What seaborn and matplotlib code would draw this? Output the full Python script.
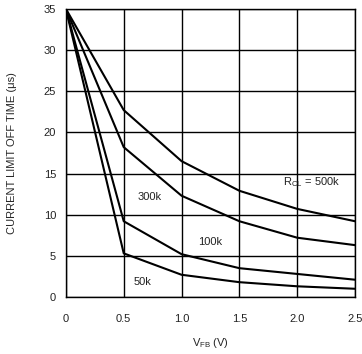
import numpy as np
import pandas as pd
import matplotlib
matplotlib.use("Agg")
import matplotlib.pyplot as plt
import seaborn as sns

# values
vfb = [0, 0.5, 1.0, 1.5, 2.0, 2.5]
off_500k = [35, 22.7, 16.5, 12.9, 10.7, 9.2]
off_300k = [35, 18.2, 12.3, 9.2, 7.2, 6.3]
off_100k = [35, 9.2, 5.2, 3.5, 2.8, 2.1]
off_50k = [35, 5.3, 2.7, 1.8, 1.3, 1.0]

curve_labels = ["500k", "300k", "100k", "50k"]
x_ticks = [0, 0.5, 1.0, 1.5, 2.0, 2.5]
x_tick_labels = ["0", "0.5", "1.0", "1.5", "2.0", "2.5"]
y_ticks = [0, 5, 10, 15, 20, 25, 30, 35]

df = pd.DataFrame({
    "vfb": vfb * 4,
    "t_off": off_500k + off_300k + off_100k + off_50k,
    "rcl": sum([[lab] * len(vfb) for lab in curve_labels], []),
})

sns.set_style("white")
plt.rcParams["font.family"] = ["Liberation Sans", "DejaVu Sans"]
plt.rcParams["mathtext.fontset"] = "custom"
plt.rcParams["mathtext.rm"] = "Liberation Sans"
plt.rcParams["mathtext.it"] = "Liberation Sans"

fig, ax = plt.subplots(figsize=(3.62, 3.54), dpi=100)
fig.subplots_adjust(left=0.182, right=0.981, top=0.975, bottom=0.161)

sns.lineplot(data=df, x="vfb", y="t_off", hue="rcl",
             palette=["black"] * 4, legend=False, linewidth=1.5, ax=ax)

ax.set_xlim(0, 2.5)
ax.set_ylim(0, 35)
ax.set_xticks(x_ticks)
ax.set_xticklabels(x_tick_labels)
ax.set_yticks(y_ticks)
ax.grid(True, color="black", linewidth=1.0)
ax.tick_params(length=0, labelsize=8, colors="#222222")
ax.tick_params(axis="x", pad=12)
ax.tick_params(axis="y", pad=7)
for sp in ax.spines.values():
    sp.set_color("black")
    sp.set_linewidth(1.0)

ax.set_xlabel(r"V$_\mathrm{FB}$ (V)", fontsize=8, labelpad=9)
ax.set_ylabel("CURRENT LIMIT OFF TIME (μs)", fontsize=8, labelpad=19)

lab_kw = dict(fontsize=8, ha="center", va="center", color="#222222")
ax.text(2.12, 13.9, r"R$_\mathrm{CL}$ = 500k", **lab_kw)
ax.text(0.72, 12.2, "300k", **lab_kw)
ax.text(1.25, 6.7, "100k", **lab_kw)
ax.text(0.66, 1.8, "50k", **lab_kw)

fig.savefig("out.png", dpi=100)
